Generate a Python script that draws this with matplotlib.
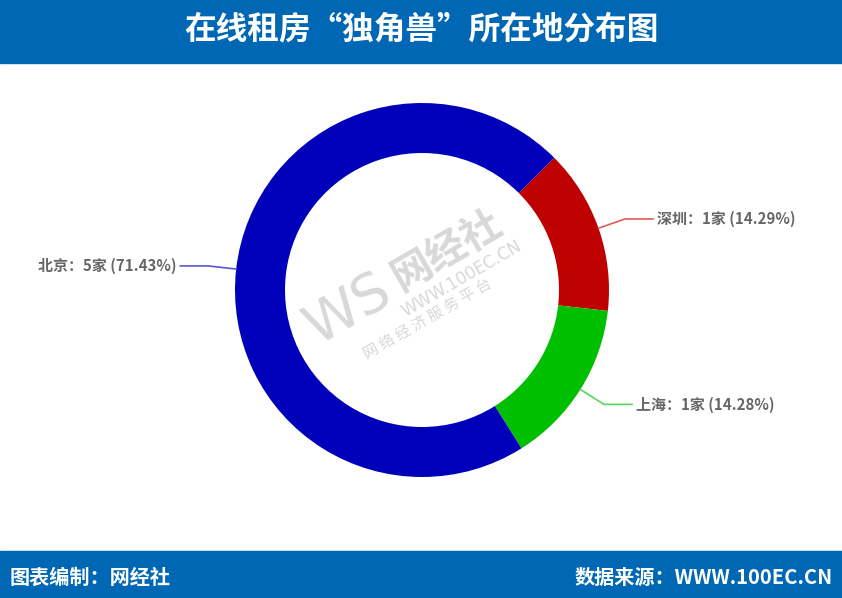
import matplotlib
matplotlib.use('Agg')
import matplotlib.pyplot as plt
from matplotlib.patches import Rectangle
import numpy as np

plt.rcParams['font.family'] = ['Noto Sans CJK SC', 'DejaVu Sans']

# Data
cities = ['深圳', '上海', '北京']
counts = [1, 1, 5]
pcts = [14.29, 14.28, 71.43]
colors = ['#bf0000', '#00bf00', '#0000bb']
line_colors = ['#e05a5a', '#5ad65a', '#5a5ad0']

title = '在线租房“独角兽”所在地分布图'
footer_left = '图表编制：网经社'
footer_right = '数据来源：WWW.100EC.CN'

W, H = 842, 598
fig = plt.figure(figsize=(W / 100, H / 100), dpi=100)
ax = fig.add_axes([0, 0, 1, 1])
ax.set_xlim(0, W)
ax.set_ylim(0, H)
ax.set_aspect('equal')
ax.axis('off')

def py(y):
    # screen y (from top) -> data y
    return H - y

# header / footer bars
blue_bar = '#0067b4'
ax.add_patch(Rectangle((0, py(63)), W, 63, color=blue_bar, zorder=1))
ax.add_patch(Rectangle((0, 0), W, H - 551, color=blue_bar, zorder=1))
ax.text(W / 2, py(29), title, color='white', fontsize=22.8, fontweight='bold',
        ha='center', va='center', zorder=2)
ax.text(10, py(577), footer_left, color='white', fontsize=14.5, fontweight='bold',
        ha='left', va='center', zorder=2)
ax.text(833, py(577), footer_right, color='white', fontsize=14.5, fontweight='bold',
        ha='right', va='center', zorder=2)

# donut
cx, cy, r_out, r_in = 422, py(290), 187, 137
wedges, _ = ax.pie(counts, colors=colors, startangle=45, counterclock=False,
                   center=(cx, cy), radius=r_out, frame=True,
                   wedgeprops=dict(width=r_out - r_in, linewidth=0))
ax.set_xlim(0, W)
ax.set_ylim(0, H)
ax.axis('off')

# watermark
wm = '#d8d8d8'
ax.text(348, py(310), 'WS', color=wm, fontsize=40, rotation=30,
        ha='center', va='center', family='DejaVu Sans', zorder=0.5)
ax.text(447, py(250), '网经社', color=wm, fontsize=29, fontweight='bold', rotation=30,
        ha='center', va='center', zorder=0.5)
ax.text(462, py(279), 'WWW.100EC.CN', color=wm, fontsize=12, rotation=30,
        ha='center', va='center', family='DejaVu Sans', zorder=0.5)
ax.text(428, py(320), '网 络 经 济 服 务 平 台', color=wm, fontsize=11, rotation=30,
        ha='center', va='center', zorder=0.5)

# labels with elbow lines
for w, name, n, p, lc in zip(wedges, cities, counts, pcts, line_colors):
    mid = np.deg2rad((w.theta1 + w.theta2) / 2)
    x0, y0 = cx + r_out * np.cos(mid), cy + r_out * np.sin(mid)
    x1, y1 = cx + 215 * np.cos(mid), cy + 215 * np.sin(mid)
    side = 1 if np.cos(mid) > 0 else -1
    x2 = x1 + side * 28
    ax.plot([x0, x1, x2], [y0, y1, y1], color=lc, lw=1.2, zorder=3)
    label = f'{name}：{n}家 ({p:.2f}%)'
    ax.text(x2 + side * 4, y1, label, color='#666666', fontsize=10.8,
            fontweight='bold', ha='left' if side > 0 else 'right', va='center', zorder=3)

fig.savefig('out.png', dpi=100, facecolor='white')
